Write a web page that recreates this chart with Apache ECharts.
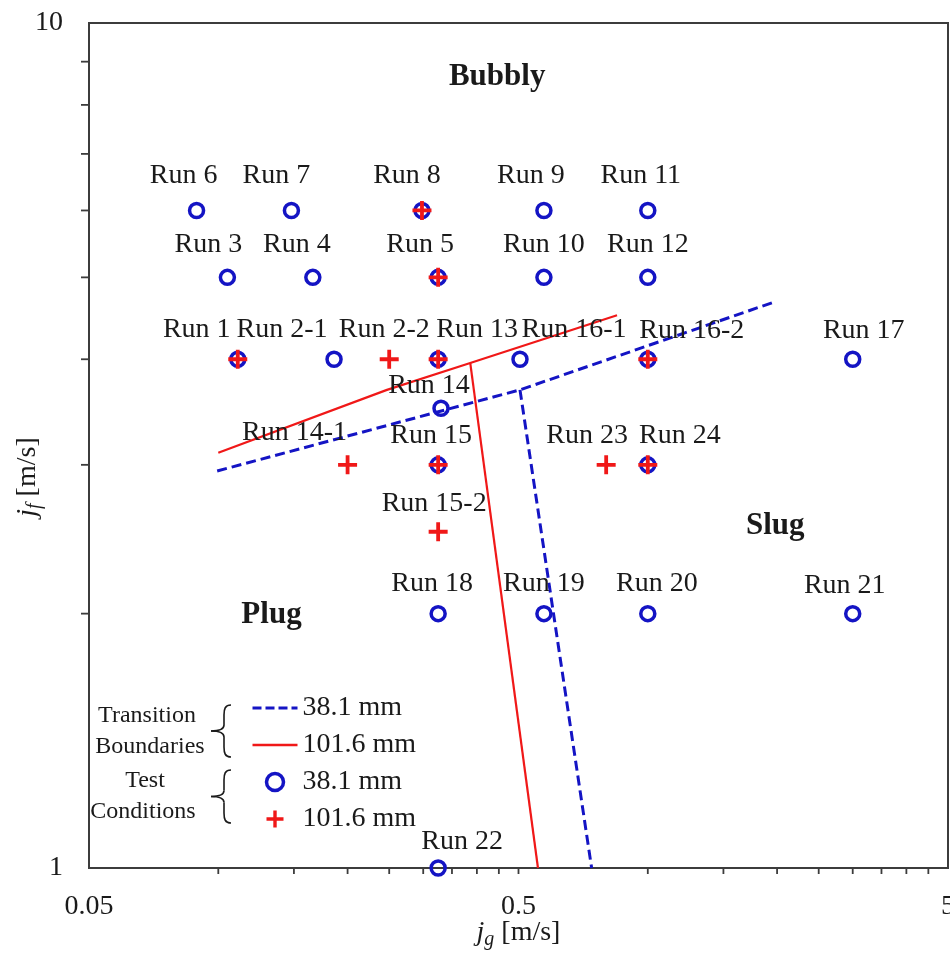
<!DOCTYPE html>
<html>
<head>
<meta charset="utf-8">
<script src="https://cdn.jsdelivr.net/npm/echarts@6/dist/echarts.min.js"></script>
<style>
  html, body { margin: 0; padding: 0; background: #fff; }
  #chart { width: 950px; height: 955px; }
</style>
</head>
<body>
<div id="chart"></div>
<script>
// test conditions: name, jg [m/s], jf [m/s], pipe (S = 38.1 mm, L = 101.6 mm, B = both)
var runNames = ['Run 6', 'Run 7', 'Run 8', 'Run 9', 'Run 11',
  'Run 3', 'Run 4', 'Run 5', 'Run 10', 'Run 12',
  'Run 1', 'Run 2-1', 'Run 2-2', 'Run 13', 'Run 16-1', 'Run 16-2', 'Run 17',
  'Run 14', 'Run 14-1', 'Run 15', 'Run 23', 'Run 24',
  'Run 15-2', 'Run 18', 'Run 19', 'Run 20', 'Run 21', 'Run 22'];
var runJg = [0.089, 0.148, 0.298, 0.573, 1.0,
  0.105, 0.166, 0.325, 0.573, 1.0,
  0.111, 0.186, 0.25, 0.325, 0.504, 1.0, 3.0,
  0.33, 0.2, 0.325, 0.8, 1.0,
  0.325, 0.325, 0.573, 1.0, 3.0, 0.325];
var runJf = [6, 6, 6, 6, 6,
  5, 5, 5, 5, 5,
  4, 4, 4, 4, 4, 4, 4,
  3.5, 3, 3, 3, 3,
  2.5, 2, 2, 2, 2, 1];
var runPipe = ['S', 'S', 'B', 'S', 'S',
  'S', 'S', 'B', 'S', 'S',
  'B', 'S', 'L', 'B', 'S', 'B', 'S',
  'S', 'L', 'B', 'L', 'B',
  'L', 'S', 'S', 'S', 'S', 'S'];

// transition boundaries
var bound38 = [[0.0994, 2.95], [0.504, 3.68], [1.98, 4.68]];
var bound38Down = [[0.504, 3.68], [0.74, 1.0]];
var bound101 = [[0.1, 3.1], [0.247, 3.68], [0.386, 3.96], [0.848, 4.51]];
var bound101Down = [[0.386, 3.96], [0.555, 1.0]];

// flow regime names
var regimeNames = ['Bubbly', 'Slug', 'Plug'];
var regimeJg = [0.446, 1.98, 0.133];
var regimeJf = [8.64, 2.54, 1.99];

// ticks
var xTicks = [0.1, 0.15, 0.2, 0.25, 0.3, 0.35, 0.4, 0.45, 0.5, 1, 1.5, 2, 2.5, 3, 3.5, 4, 4.5];
var yTicks = [2, 3, 4, 5, 6, 7, 8, 9];
var xTickLabels = [0.05, 0.5, 5];
var yTickLabels = [1, 10];

// label placement (pixels from the marker to the label centre)
var labelShift = [[-13, -35], [-15, -35], [-15, -35], [-13, -35], [-7, -35],
  [-19, -33], [-16, -33], [-18, -33], [0, -33], [0, -33],
  [-41, -30], [-52, -30], [-5, -30], [39, -30], [54, -30], [44, -29], [11, -29],
  [-12, -23], [-53, -32], [-7, -29], [-19, -29], [32, -29],
  [-4, -28], [-6, -30], [0, -30], [9, -30], [-8, -28], [24, -26]];

var serif = 'Liberation Serif';
var ink = '#1a1a1a';
var blue = '#1414c4';
var red = '#f01818';
var plusPath = 'path://M4,0H6V4H10V6H6V10H4V6H0V4H4Z';

var blueData = [], redData = [], labelData = [];
for (var i = 0; i < runNames.length; i++) {
  if (runPipe[i] !== 'L') blueData.push([runJg[i], runJf[i]]);
  if (runPipe[i] !== 'S') redData.push([runJg[i], runJf[i]]);
  labelData.push({
    name: runNames[i],
    value: [runJg[i], runJf[i]],
    label: { offset: labelShift[i] }
  });
}
var regimeData = regimeNames.map(function (n, k) {
  return { name: n, value: [regimeJg[k], regimeJf[k]] };
});

var legendText = {
  'b38': '38.1 mm', 'b101': '101.6 mm',
  'c38': '38.1 mm', 'c101': '101.6 mm'
};

// curly brace "{" made of bezier pieces, tip on the left
function brace(top, bottom) {
  var mid = (top + bottom) / 2, xr = 231, xb = 224, xt = 211;
  var st = { stroke: ink, lineWidth: 1.6, fill: null };
  return [
    { type: 'bezierCurve', shape: { x1: xr, y1: top, cpx1: xb + 1, cpy1: top, cpx2: xb, cpy2: top + 4, x2: xb, y2: top + 10 }, style: st },
    { type: 'line', shape: { x1: xb, y1: top + 10, x2: xb, y2: mid - 6 }, style: st },
    { type: 'bezierCurve', shape: { x1: xb, y1: mid - 6, cpx1: xb, cpy1: mid - 2, cpx2: xb - 4, cpy2: mid, x2: xt, y2: mid }, style: st },
    { type: 'bezierCurve', shape: { x1: xt, y1: mid, cpx1: xb - 4, cpy1: mid, cpx2: xb, cpy2: mid + 2, x2: xb, y2: mid + 6 }, style: st },
    { type: 'line', shape: { x1: xb, y1: mid + 6, x2: xb, y2: bottom - 10 }, style: st },
    { type: 'bezierCurve', shape: { x1: xb, y1: bottom - 10, cpx1: xb, cpy1: bottom - 4, cpx2: xb + 1, cpy2: bottom, x2: xr, y2: bottom }, style: st }
  ];
}

var myChart = echarts.init(document.getElementById('chart'));
myChart.setOption({
  animation: false,
  backgroundColor: '#fff',
  grid: {
    left: 89, right: 2, top: 23, bottom: 86,
    show: true, borderColor: '#3c3c3c', borderWidth: 2
  },
  xAxis: {
    type: 'log', logBase: 10, min: 0.05, max: 5,
    axisLine: { show: false }, axisTick: { show: false },
    axisLabel: { show: false }, splitLine: { show: false },
    name: '{j|j}{s|g} [m/s]',
    nameLocation: 'middle',
    nameGap: 48,
    nameTextStyle: {
      fontFamily: serif, fontSize: 28, color: ink,
      rich: {
        j: { fontFamily: serif, fontSize: 28, fontStyle: 'italic', color: ink },
        s: { fontFamily: serif, fontSize: 20, fontStyle: 'italic', color: ink, padding: [14, 0, 0, 0] }
      }
    }
  },
  yAxis: {
    type: 'log', logBase: 10, min: 1, max: 10,
    axisLine: { show: false }, axisTick: { show: false },
    axisLabel: { show: false }, splitLine: { show: false }
  },
  legend: {
    orient: 'vertical',
    left: 246, top: 689,
    itemWidth: 45, itemHeight: 17, itemGap: 9,
    data: [
      { name: 'b38', itemStyle: { opacity: 0 }, lineStyle: { width: 3, type: [9, 4] } },
      { name: 'b101', itemStyle: { opacity: 0 }, lineStyle: { width: 2.5 } },
      { name: 'c38', itemStyle: { borderWidth: 3.5 } },
      'c101'
    ],
    formatter: function (n) { return legendText[n]; },
    textStyle: { fontFamily: serif, fontSize: 28, color: ink }
  },
  graphic: [
    {
      type: 'text', x: 28, y: 477, rotation: Math.PI / 2,
      style: {
        text: '{j|j}{s|f} [m/s]',
        fontFamily: serif, fontSize: 28, fill: ink,
        align: 'center', verticalAlign: 'middle',
        rich: {
          j: { fontFamily: serif, fontSize: 28, fontStyle: 'italic', fill: ink },
          s: { fontFamily: serif, fontSize: 20, fontStyle: 'italic', fill: ink, padding: [14, 0, 0, 0] }
        }
      }
    },
    { type: 'text', x: 147, y: 716, style: { text: 'Transition', fontFamily: serif, fontSize: 24, fill: ink, align: 'center', verticalAlign: 'middle' } },
    { type: 'text', x: 150, y: 747, style: { text: 'Boundaries', fontFamily: serif, fontSize: 24, fill: ink, align: 'center', verticalAlign: 'middle' } },
    { type: 'text', x: 145, y: 781, style: { text: 'Test', fontFamily: serif, fontSize: 24, fill: ink, align: 'center', verticalAlign: 'middle' } },
    { type: 'text', x: 143, y: 812, style: { text: 'Conditions', fontFamily: serif, fontSize: 24, fill: ink, align: 'center', verticalAlign: 'middle' } }
  ].concat(brace(705, 757), brace(770, 823)),
  series: [
    {
      name: 'b38', type: 'line', data: bound38, symbol: 'none', z: 3,
      lineStyle: { color: blue, width: 3, type: [10, 5] }, itemStyle: { color: blue }
    },
    {
      name: 'b38', type: 'line', data: bound38Down, symbol: 'none', z: 3,
      lineStyle: { color: blue, width: 3, type: [10, 5] }, itemStyle: { color: blue }
    },
    {
      name: 'b101', type: 'line', data: bound101, symbol: 'none', z: 3,
      lineStyle: { color: red, width: 2.2 }, itemStyle: { color: red }
    },
    {
      name: 'b101', type: 'line', data: bound101Down, symbol: 'none', z: 3,
      lineStyle: { color: red, width: 2.2 }, itemStyle: { color: red }
    },
    {
      name: 'c38', type: 'scatter', data: blueData, clip: false, z: 4,
      symbol: 'circle', symbolSize: 14,
      itemStyle: { color: 'rgba(0,0,0,0)', borderColor: blue, borderWidth: 3.5, opacity: 1 }
    },
    {
      name: 'c101', type: 'scatter', data: redData, clip: false, z: 5,
      symbol: plusPath, symbolSize: 19,
      itemStyle: { color: red, borderWidth: 0, opacity: 1 }
    },
    {
      name: 'labels', type: 'scatter', data: labelData, clip: false, z: 6,
      symbolSize: 1, itemStyle: { color: 'rgba(0,0,0,0)', opacity: 1 }, silent: true,
      label: {
        show: true, position: 'inside', formatter: '{b}',
        fontFamily: serif, fontSize: 28, color: ink, opacity: 1
      }
    },
    {
      name: 'regimes', type: 'scatter', data: regimeData, clip: false, z: 6,
      symbolSize: 1, itemStyle: { color: 'rgba(0,0,0,0)', opacity: 1 }, silent: true,
      label: {
        show: true, position: 'inside', formatter: '{b}',
        fontFamily: serif, fontSize: 31, fontWeight: 'bold', color: ink, opacity: 1
      }
    },
    {
      name: 'xticks', type: 'custom', clip: false, silent: true, z: 7,
      data: xTicks.map(function (v) { return [v, 1]; }),
      renderItem: function (params, api) {
        var p = api.coord([api.value(0), api.value(1)]);
        return { type: 'line', shape: { x1: p[0], y1: p[1], x2: p[0], y2: p[1] + 6 }, style: { stroke: '#3c3c3c', lineWidth: 1.8 } };
      }
    },
    {
      name: 'yticks', type: 'custom', clip: false, silent: true, z: 7,
      data: yTicks.map(function (v) { return [0.05, v]; }),
      renderItem: function (params, api) {
        var p = api.coord([api.value(0), api.value(1)]);
        return { type: 'line', shape: { x1: p[0] - 8, y1: p[1], x2: p[0], y2: p[1] }, style: { stroke: '#3c3c3c', lineWidth: 1.8 } };
      }
    },
    {
      name: 'xlabels', type: 'custom', clip: false, silent: true, z: 7,
      data: xTickLabels.map(function (v) { return [v, 1]; }),
      renderItem: function (params, api) {
        var p = api.coord([api.value(0), api.value(1)]);
        return { type: 'text', x: p[0], y: p[1] + 25, style: { text: String(xTickLabels[params.dataIndex]), fontFamily: serif, fontSize: 28, fill: ink, align: 'center', verticalAlign: 'top' } };
      }
    },
    {
      name: 'ylabels', type: 'custom', clip: false, silent: true, z: 7,
      data: yTickLabels.map(function (v) { return [0.05, v]; }),
      renderItem: function (params, api) {
        var p = api.coord([api.value(0), api.value(1)]);
        return { type: 'text', x: p[0] - 26, y: p[1], style: { text: String(yTickLabels[params.dataIndex]), fontFamily: serif, fontSize: 28, fill: ink, align: 'right', verticalAlign: 'middle' } };
      }
    }
  ]
});
</script>
</body>
</html>
